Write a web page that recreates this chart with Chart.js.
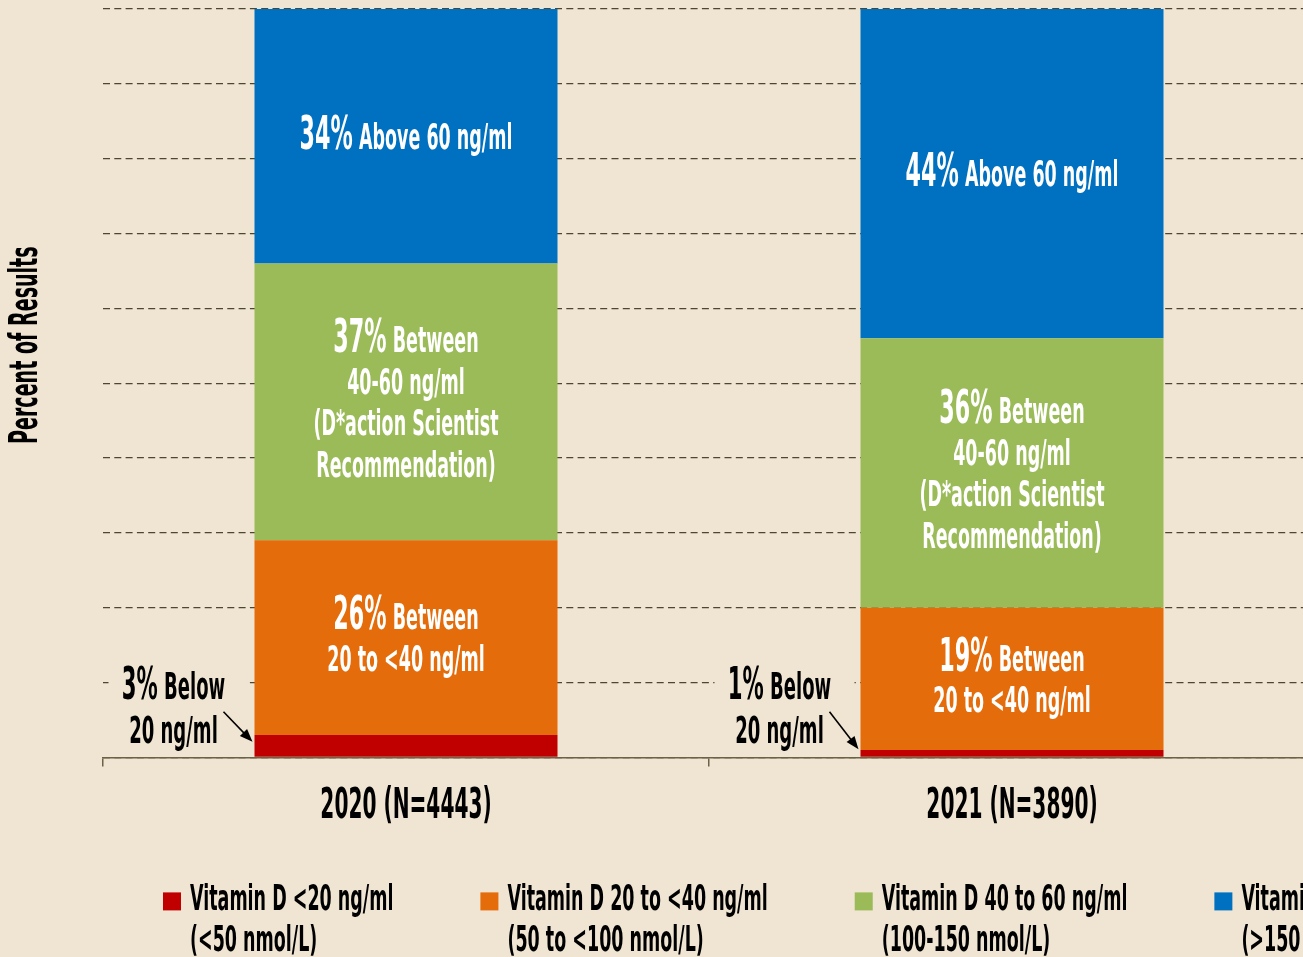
<!DOCTYPE html>
<html>
<head>
<meta charset="utf-8">
<script src="https://cdn.jsdelivr.net/npm/chart.js@4/dist/chart.umd.min.js"></script>
<style>
	html, body { margin: 0; background: #f0e5d2; overflow: hidden; }
	#wrap { width: 1330px; height: 957px; }
</style>
</head>
<body>
<div id="wrap"><canvas id="chart" width="1330" height="957"></canvas></div>
<script>
const years = ['2020 (N=4443)', '2021 (N=3890)']
const below20 = [3, 1]
const from20to40 = [26, 19]
const from40to60 = [37, 36]
const above60 = [34, 44]
const yTicks = [0, 10, 20, 30, 40, 50, 60, 70, 80, 90, 100]

const seriesNames = ['Vitamin D <20 ng/ml', 'Vitamin D 20 to <40 ng/ml', 'Vitamin D 40 to 60 ng/ml', 'Vitamin D >60 ng/ml']
const seriesUnits = ['(<50 nmol/L)', '(50 to <100 nmol/L)', '(100-150 nmol/L)', '(>150 nmol/L)']
const seriesColors = ['#c00000', '#e46c0a', '#9bbb59', '#0070c0']
// text that follows the big "NN%" in each segment
const seriesNotes = [
	[' Below', '20 ng/ml'],
	[' Between', '20 to <40 ng/ml'],
	[' Between', '40-60 ng/ml', '(D*action Scientist', 'Recommendation)'],
	[' Above 60 ng/ml']
]
const yTitle = 'Percent of Results'

const BG = '#f0e5d2'
const FONT = 'DejaVu Sans'
const K = 0.53 // horizontal squeeze, to get a condensed face
const KY = 1.1 // and a little taller

// condense every text the canvas draws (ticks included)
const ctx = document.getElementById('chart').getContext('2d')
const rawFill = ctx.fillText.bind(ctx)
const rawMeasure = ctx.measureText.bind(ctx)
ctx.fillText = (t, x, y) => {
	ctx.save()
	ctx.translate(x, y)
	ctx.scale(K, KY)
	rawFill(t, 0, 0)
	ctx.restore()
}
ctx.measureText = t => {
	const m = rawMeasure(t)
	return {
		width: m.width * K,
		actualBoundingBoxAscent: m.actualBoundingBoxAscent * KY,
		actualBoundingBoxDescent: m.actualBoundingBoxDescent * KY,
		actualBoundingBoxLeft: m.actualBoundingBoxLeft * K,
		actualBoundingBoxRight: m.actualBoundingBoxRight * K
	}
}

function font(size) { return `bold ${size}px "${FONT}"` }

// first line: big percent + smaller words, rest: smaller lines, all centred on cx
function noteBlock(c, cx, cy, value, lines, big, small, lh) {
	const n = lines.length
	let base = cy - (n - 1) * lh / 2 + small * 0.38
	c.textBaseline = 'alphabetic'
	c.textAlign = 'left'
	c.font = font(big)
	const head = value + '%'
	const wHead = c.measureText(head).width
	c.font = font(small)
	const wRest = c.measureText(lines[0]).width
	let x = cx - (wHead + wRest) / 2
	c.font = font(big)
	c.fillText(head, x, base)
	c.font = font(small)
	c.fillText(lines[0], x + wHead, base)
	c.textAlign = 'center'
	for (let i = 1; i < n; i++) c.fillText(lines[i], cx, base + i * lh)
}

const notesPlugin = {
	id: 'notes',
	afterDatasetsDraw(chart) {
		const c = chart.ctx
		c.save()
		chart.data.datasets.forEach((ds, di) => {
			const meta = chart.getDatasetMeta(di)
			meta.data.forEach((bar, i) => {
				const top = bar.y, base = bar.base
				const value = ds.data[i]
				c.fillStyle = '#fff'
				if (di == 0) {
					// small segment: label sits left of the bar with an arrow
					const left = bar.x - bar.width / 2
					c.fillStyle = BG
					c.fillRect(left - 146, base - 100, 140, 92)
					c.fillStyle = '#000'
					noteBlock(c, left - 81, base - 49, value, seriesNotes[0], 40, 34, 44)
					const tipX = left - 2, tipY = (top + base) / 2 - 4
					const sx = left - 31, sy = base - 45
					const ang = Math.atan2(tipY - sy, tipX - sx)
					c.strokeStyle = '#000'
					c.lineWidth = 1.6
					c.beginPath()
					c.moveTo(sx, sy)
					c.lineTo(tipX - 8 * Math.cos(ang), tipY - 8 * Math.sin(ang))
					c.stroke()
					c.beginPath()
					c.moveTo(tipX, tipY)
					c.lineTo(tipX - 13 * Math.cos(ang) + 5 * Math.sin(ang), tipY - 13 * Math.sin(ang) - 5 * Math.cos(ang))
					c.lineTo(tipX - 13 * Math.cos(ang) - 5 * Math.sin(ang), tipY - 13 * Math.sin(ang) + 5 * Math.cos(ang))
					c.closePath()
					c.fill()
				} else {
					noteBlock(c, bar.x, (top + base) / 2, value, seriesNotes[di], 42, 33, 41.7)
				}
			})
		})
		c.restore()
	},
	afterDraw(chart) {
		const c = chart.ctx
		const area = chart.chartArea
		c.save()
		// y title
		c.fillStyle = '#000'
		c.font = font(36)
		c.textAlign = 'center'
		c.textBaseline = 'middle'
		c.translate(27, (area.top + area.bottom) / 2 - 38)
		c.rotate(-Math.PI / 2)
		c.fillText(yTitle, 0, 0)
		c.restore()

		// legend, two lines per entry
		c.save()
		c.font = font(33)
		c.textBaseline = 'middle'
		c.textAlign = 'left'
		let x = area.left + 60
		const y1 = area.bottom + 143, y2 = area.bottom + 184
		chart.data.datasets.forEach((ds, di) => {
			c.fillStyle = ds.backgroundColor
			c.fillRect(x, y1 - 8, 18, 18)
			c.fillStyle = '#000'
			c.fillText(seriesNames[di], x + 27, y1)
			c.fillText(seriesUnits[di], x + 27, y2)
			const w = Math.max(c.measureText(seriesNames[di]).width, c.measureText(seriesUnits[di]).width)
			x += 27 + w + 87
		})
		c.restore()
	}
}

new Chart(ctx, {
	type: 'bar',
	data: {
		labels: years,
		datasets: [below20, from20to40, from40to60, above60].map((d, i) => ({
			label: seriesNames[i],
			data: d,
			backgroundColor: seriesColors[i],
			borderWidth: 0,
			categoryPercentage: 1,
			barPercentage: 0.5
		}))
	},
	options: {
		responsive: false,
		animation: false,
		layout: { padding: { left: 103, right: 15, top: 9, bottom: 109 } },
		plugins: {
			legend: { display: false },
			tooltip: { enabled: false }
		},
		scales: {
			x: {
				stacked: true,
				grid: { drawOnChartArea: false, drawTicks: true, tickLength: 9, color: '#6b6345', lineWidth: 1.5 },
				border: { color: '#6b6345', width: 1.5 },
				ticks: { color: '#000', padding: 18, font: { family: FONT, weight: 'bold', size: 38 } }
			},
			y: {
				stacked: true,
				min: 0,
				max: 100,
				afterBuildTicks: s => { s.ticks = yTicks.map(v => ({ value: v })) },
				grid: { color: '#4d4630', lineWidth: 1.2, drawTicks: false },
				border: { display: false, dash: [7, 4.3] },
				ticks: { display: false }
			}
		}
	},
	plugins: [notesPlugin]
})
</script>
</body>
</html>
